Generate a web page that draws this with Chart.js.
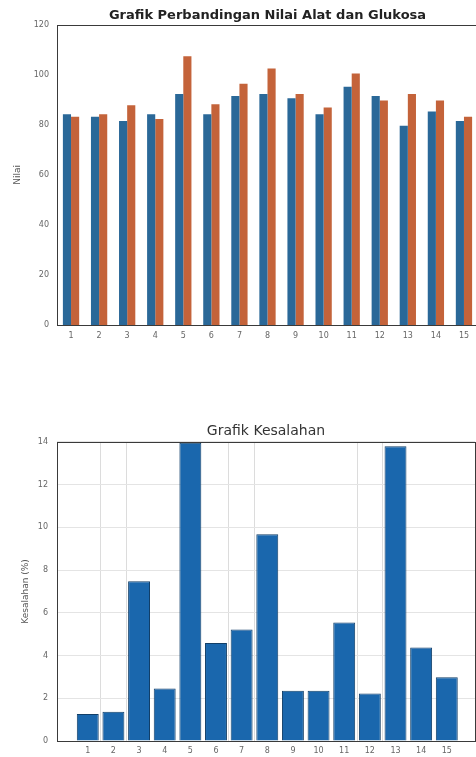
<!DOCTYPE html>
<html>
<head>
<meta charset="utf-8">
<script src="https://cdn.jsdelivr.net/npm/chart.js@4/dist/chart.umd.min.js"></script>
<style>
  html, body { margin: 0; padding: 0; background: #fff; overflow: hidden; }
  body { width: 476px; height: 757px; position: relative; }
  .box { position: absolute; left: 0; }
</style>
</head>
<body>
<div class="box" style="top:0;width:480px;height:342px"><canvas id="atas"></canvas></div>
<div class="box" style="top:400px;width:476px;height:357px"><canvas id="bawah"></canvas></div>
<script>
// data
var sampel = ["1","2","3","4","5","6","7","8","9","10","11","12","13","14","15"];
var nilaiAlat = [84.2, 83.2, 81.5, 84.2, 92.3, 84.2, 91.5, 92.3, 90.6, 84.2, 95.2, 91.5, 79.6, 85.3, 81.5];
var nilaiGlukosa = [83.2, 84.2, 87.8, 82.3, 107.4, 88.2, 96.4, 102.5, 92.3, 86.9, 100.5, 89.7, 92.3, 89.7, 83.2];
var kesalahan = [1.26, 1.37, 7.48, 2.46, 13.96, 4.59, 5.22, 9.67, 2.35, 2.35, 5.55, 2.22, 13.79, 4.38, 2.98];
var tickNilai = [0, 20, 40, 60, 80, 100, 120];
var tickKesalahan = [0, 2, 4, 6, 8, 10, 12, 14];

var fontTick = { family: "DejaVu Sans", size: 8 };
var warnaTick = "#666";

// kotak sumbu ala matlab
var kotak = {
  id: "kotak",
  afterDraw: function (chart) {
    var a = chart.chartArea;
    var c = chart.ctx;
    c.save();
    c.strokeStyle = "#3a3a3a";
    c.lineWidth = 1;
    c.strokeRect(Math.round(a.left) + 0.5, Math.round(a.top) + 0.5, Math.round(a.right - a.left), Math.round(a.bottom - a.top));
    c.restore();
  }
};

new Chart(document.getElementById("atas"), {
  type: "bar",
  data: {
    labels: sampel,
    datasets: [
      { label: "Alat", data: nilaiAlat, backgroundColor: "#2a6898", barPercentage: 1.0, categoryPercentage: 0.58 },
      { label: "Glukosa", data: nilaiGlukosa, backgroundColor: "#c4633a", barPercentage: 1.0, categoryPercentage: 0.58 }
    ]
  },
  options: {
    responsive: true,
    maintainAspectRatio: false,
    animation: false,
    layout: { padding: { left: 0, right: 2, top: 0, bottom: 0 } },
    plugins: {
      legend: { display: false },
      tooltip: { enabled: false },
      title: {
        display: true,
        fullSize: false,
        text: "Grafik Perbandingan Nilai Alat dan Glukosa",
        color: "#222",
        font: { family: "DejaVu Sans", size: 13, weight: "bold" },
        padding: { top: 8, bottom: 1 }
      }
    },
    scales: {
      x: {
        grid: { display: false, drawTicks: false },
        border: { display: false },
        ticks: { color: warnaTick, font: fontTick, padding: 6, maxRotation: 0, autoSkip: false },
        afterFit: function (s) { s.height = 17; }
      },
      y: {
        min: 0,
        max: 120,
        afterBuildTicks: function (s) { s.ticks = tickNilai.map(function (v) { return { value: v }; }); },
        grid: { display: false, drawTicks: false },
        border: { display: false },
        ticks: { color: warnaTick, font: fontTick, padding: 8 },
        title: { display: true, text: "Nilai", color: "#555", font: { family: "DejaVu Sans", size: 9 }, padding: { top: 12, bottom: 0 } },
        afterFit: function (s) { s.width = 57; }
      }
    }
  },
  plugins: [kotak]
});

var gridX = [2, 3, 7, 8, 12, 13];

new Chart(document.getElementById("bawah"), {
  type: "bar",
  data: {
    datasets: [{
      label: "Kesalahan",
      data: kesalahan.map(function (v, i) { return { x: Number(sampel[i]), y: v }; }),
      backgroundColor: "#1a67ad",
      borderColor: "#123f68",
      borderWidth: 1,
      barPercentage: 0.9,
      categoryPercentage: 0.95
    }]
  },
  options: {
    responsive: true,
    maintainAspectRatio: false,
    animation: false,
    layout: { padding: { left: 0, right: 1, top: 0, bottom: 0 } },
    plugins: {
      legend: { display: false },
      tooltip: { enabled: false },
      title: {
        display: true,
        fullSize: false,
        text: "Grafik Kesalahan",
        color: "#333",
        font: { family: "DejaVu Sans", size: 14, weight: "normal" },
        padding: { top: 23, bottom: 2 }
      }
    },
    scales: {
      x: {
        type: "linear",
        offset: false,
        min: -0.2,
        max: 16.1,
        ticks: {
          stepSize: 1,
          autoSkip: false,
          maxRotation: 0,
          color: warnaTick,
          font: fontTick,
          padding: 5,
          callback: function (v) { return sampel.indexOf(String(v)) >= 0 ? String(v) : ""; }
        },
        grid: {
          drawTicks: false,
          color: function (ctx) { return ctx.tick && gridX.indexOf(ctx.tick.value) >= 0 ? "#dcdcdc" : "rgba(0,0,0,0)"; }
        },
        border: { display: false },
        afterFit: function (s) { s.height = 16; s.paddingLeft = 0; s.paddingRight = 0; }
      },
      y: {
        min: 0,
        max: 14,
        afterBuildTicks: function (s) { s.ticks = tickKesalahan.map(function (v) { return { value: v }; }); },
        grid: { drawTicks: false, color: "#e4e4e4" },
        border: { display: false },
        ticks: { color: warnaTick, font: fontTick, padding: 9 },
        title: { display: true, text: "Kesalahan (%)", color: "#555", font: { family: "DejaVu Sans", size: 9 }, padding: { top: 20, bottom: 0 } },
        afterFit: function (s) { s.width = 57; }
      }
    }
  },
  plugins: [kotak]
});
</script>
</body>
</html>
